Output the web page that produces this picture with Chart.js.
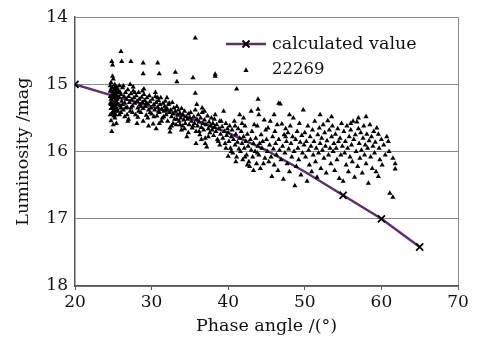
<!DOCTYPE html>
<html>
<head>
<meta charset="utf-8">
<script src="https://cdn.jsdelivr.net/npm/chart.js@4"></script>
<style>
  html, body { margin: 0; padding: 0; background: #fff; }
  #wrap { width: 480px; height: 342px; }
</style>
</head>
<body>
<div id="wrap"><canvas id="phaseChart" width="480" height="342"></canvas></div>
<script>
// Axis ticks
const xTicks = [20, 30, 40, 50, 60, 70];
const yTicks = [14, 15, 16, 17, 18];

// Calculated phase curve
const calcAngle = [20, 25, 30, 35, 40, 45, 50, 55, 60, 65];
const calcMag = [15.0, 15.17, 15.33, 15.5, 15.72, 15.98, 16.3, 16.65, 17.0, 17.42];
const calcMarker = [5, 0, 0, 0, 0, 0, 0, 5, 5, 5];

// Observations of 22269: [phase angle, magnitude]
const obs22269 = [
  // outliers
  [24.8,14.66],[24.9,14.71],[26.0,14.51],[26.1,14.66],[27.3,14.66],[28.9,14.68],[30.8,14.68],[28.9,14.84],
  [31.0,14.84],[33.1,14.82],[33.3,14.96],[35.4,14.90],[38.3,14.85],[38.3,14.88],[35.7,14.31],[35.7,15.13],
  [41.1,15.07],[43.9,15.22],[43.9,15.37],[46.6,15.28],[49.8,15.38],
  // 24.5 - 26
  [24.6,15.02],[24.7,15.10],[24.8,15.18],[24.9,15.25],[25.0,15.31],[25.1,15.08],[25.2,15.15],[25.3,15.22],[25.4,15.35],[25.5,15.12],
  [24.6,15.28],[24.7,15.36],[24.8,15.05],[24.9,15.13],[25.0,15.20],[25.1,15.27],[25.2,15.40],[25.3,15.03],[25.4,15.17],[25.5,15.30],
  [24.7,14.97],[24.9,15.42],[25.1,15.47],[25.3,15.33],[25.5,15.22],[24.8,15.30],[25.0,15.12],[25.2,15.28],[25.4,15.08],[24.6,15.18],
  [24.8,15.44],[24.7,15.54],[25.6,15.40],[24.9,14.88],[25.0,14.92],
  [24.6,15.10],[24.7,15.22],[24.8,15.35],[24.9,15.05],[25.0,15.40],[25.1,15.16],[25.2,15.00],[25.3,15.45],[25.4,15.26],[25.5,15.05],
  [25.6,15.18],[25.7,15.30],[25.8,15.02],[25.9,15.12],[26.0,15.35],[24.7,15.30],[24.9,15.34],[25.1,15.38],[25.3,15.12],[25.5,15.38],
  [24.6,15.45],[25.2,15.50],[25.0,15.60],[24.8,15.70],[25.4,15.58],
  // 26 - 30
  [25.7,15.10],[25.8,15.20],[25.9,15.32],[26.0,15.15],[26.1,15.25],[26.2,15.05],[26.3,15.38],[26.4,15.18],[26.5,15.28],[26.6,15.12],
  [26.7,15.22],[26.8,15.34],[26.9,15.08],[27.0,15.18],[27.1,15.27],[27.2,15.40],[27.3,15.14],[27.4,15.23],[27.5,15.32],[27.6,15.10],
  [27.7,15.20],[27.8,15.28],[27.9,15.45],[28.0,15.17],[28.1,15.25],[28.2,15.35],[28.3,15.12],[28.4,15.22],[28.5,15.30],[28.6,15.42],
  [28.7,15.19],[28.8,15.27],[28.9,15.36],[29.0,15.15],[29.1,15.24],[29.2,15.33],[29.3,15.46],[29.4,15.20],[29.5,15.29],[29.6,15.38],
  [29.7,15.17],[29.8,15.26],[29.9,15.35],[30.0,15.44],[26.0,15.42],[26.5,15.48],[27.0,15.52],[28.2,15.49],[28.9,15.55],[30.2,15.59],
  [26.3,15.02],[27.6,15.04],[25.8,15.45],[27.2,15.00],[29.0,15.07],
  [26.2,15.30],[26.8,15.45],[27.3,15.35],[27.8,15.12],[28.3,15.40],[28.8,15.10],[29.3,15.28],[29.8,15.42],[26.6,15.35],[27.5,15.42],
  [28.6,15.33],[29.5,15.50],[29.6,15.62],[28.1,15.58],[26.9,15.55],
  // 30 - 35
  [30.1,15.22],[30.3,15.30],[30.4,15.38],[30.5,15.18],[30.6,15.27],[30.7,15.47],[30.8,15.34],[30.9,15.24],[31.0,15.42],[31.1,15.30],
  [31.2,15.20],[31.3,15.37],[31.4,15.50],[31.5,15.28],[31.6,15.40],[31.7,15.33],[31.8,15.25],[31.9,15.45],[32.0,15.36],[32.1,15.55],
  [32.2,15.30],[32.3,15.42],[32.4,15.71],[32.5,15.38],[32.6,15.48],[32.7,15.27],[32.8,15.44],[32.9,15.35],[33.0,15.52],[33.1,15.40],
  [33.2,15.60],[33.3,15.33],[33.4,15.46],[33.5,15.38],[33.6,15.55],[33.7,15.43],[33.8,15.50],[33.9,15.36],[34.0,15.62],[34.1,15.45],
  [34.2,15.53],[34.3,15.40],[34.4,15.58],[34.5,15.48],[34.6,15.78],[34.7,15.52],[34.8,15.44],[34.9,15.60],[35.0,15.50],[32.4,15.65],
  [31.0,15.58],[33.9,15.68],[30.5,15.12],[32.0,15.20],
  [30.3,15.48],[30.8,15.20],[31.3,15.55],[31.8,15.38],[32.3,15.28],[32.8,15.58],[33.3,15.52],[30.9,15.40],[31.6,15.48],[32.6,15.62],
  [33.7,15.60],[34.3,15.66],[34.8,15.72],[30.6,15.66],
  // 35 - 40
  [35.1,15.42],[35.2,15.55],[35.3,15.65],[35.5,15.48],[35.6,15.58],[35.7,15.38],[35.8,15.70],[35.9,15.52],[36.0,15.62],[36.1,15.45],
  [36.2,15.56],[36.3,15.75],[36.4,15.50],[36.5,15.64],[36.6,15.42],[36.7,15.58],[36.8,15.68],[36.9,15.53],[37.0,15.80],[37.1,15.60],
  [37.2,15.93],[37.3,15.47],[37.4,15.66],[37.5,15.56],[37.6,15.72],[37.7,15.62],[37.8,15.50],[37.9,15.68],[38.0,15.58],[38.1,15.76],
  [38.2,15.64],[38.3,15.45],[38.4,15.70],[38.5,15.60],[38.6,15.82],[38.7,15.85],[38.8,15.66],[38.9,15.55],[39.0,15.74],[39.2,15.63],
  [39.3,15.80],[39.4,15.40],[39.5,15.70],[39.6,15.88],[39.7,15.58],[39.8,15.76],[39.9,15.66],[35.9,15.30],[36.6,15.35],[37.0,15.88],
  [35.4,15.62],[36.2,15.70],[36.9,15.40],[37.4,15.78],[38.2,15.52],[38.9,15.90],[39.1,15.55],[39.7,15.95],[36.5,15.82],[35.8,15.88],
  // 40 - 45
  [40.0,15.72],[40.1,15.85],[40.2,15.62],[40.3,15.95],[40.4,15.78],[40.5,15.68],[40.6,16.02],[40.7,15.82],[40.8,15.55],[40.9,15.90],
  [41.0,15.74],[41.1,16.08],[41.2,15.86],[41.3,15.66],[41.4,15.96],[41.5,15.80],[41.6,16.00],[41.7,15.70],[41.8,15.88],[41.9,16.12],
  [42.0,15.78],[42.1,15.95],[42.2,15.62],[42.3,15.85],[42.4,16.05],[42.5,15.74],[42.6,15.92],[42.7,16.15],[42.8,16.22],[42.9,15.82],
  [43.0,15.98],[43.1,15.70],[43.2,16.08],[43.3,15.88],[43.4,15.60],[43.5,16.00],[43.6,15.80],[43.7,16.18],[43.8,15.62],[43.9,15.92],
  [44.0,16.05],[44.2,16.25],[44.3,15.75],[44.4,15.95],[44.5,15.85],[44.7,15.53],[44.8,16.10],[44.9,15.68],[40.0,16.07],[41.5,15.45],
  [42.0,15.50],[43.0,15.40],[44.0,15.45],
  [40.4,16.00],[41.0,16.15],[41.8,15.58],[42.5,16.20],[43.3,16.28],[44.1,15.88],[44.6,16.18],[42.2,16.08],[40.9,15.62],[43.8,16.02],
  // 45 - 50
  [45.0,15.82],[45.1,16.00],[45.2,15.65],[45.3,16.15],[45.4,15.90],[45.5,15.55],[45.6,16.08],[45.7,16.37],[45.8,15.78],[45.9,15.96],
  [46.0,16.20],[46.1,15.70],[46.2,15.88],[46.3,16.05],[46.4,15.60],[46.5,16.28],[46.6,15.82],[46.7,15.98],[46.8,15.29],[46.9,16.12],
  [47.0,15.59],[47.1,15.92],[47.2,16.41],[47.3,15.75],[47.4,16.02],[47.5,15.66],[47.6,15.85],[47.7,16.18],[47.8,15.72],[47.9,15.96],
  [48.0,16.30],[48.1,15.62],[48.2,15.88],[48.3,16.08],[48.4,15.78],[48.5,15.50],[48.6,16.00],[48.7,16.51],[48.8,15.82],[48.9,16.22],
  [49.0,15.70],[49.1,15.95],[49.2,16.12],[49.3,15.58],[49.4,15.86],[49.5,16.35],[49.6,15.76],[49.7,16.02],[49.9,15.90],[47.5,15.78],
  [46.0,15.45],[48.0,15.45],
  // 50 - 55
  [50.0,15.72],[50.1,16.08],[50.2,15.85],[50.3,16.44],[50.4,15.62],[50.5,15.98],[50.6,16.20],[50.7,15.78],[50.8,15.92],[50.9,16.30],
  [51.0,15.68],[51.1,16.05],[51.2,15.85],[51.3,15.55],[51.4,16.15],[51.5,15.95],[51.6,16.38],[51.7,15.75],[51.8,16.02],[51.9,15.65],
  [52.0,15.88],[52.1,16.25],[52.2,15.80],[52.3,15.98],[52.4,15.60],[52.5,16.10],[52.6,15.72],[52.7,15.92],[52.8,16.32],[52.9,15.84],
  [53.0,15.54],[53.1,16.05],[53.2,15.68],[53.3,15.95],[53.4,16.18],[53.5,15.78],[53.6,15.62],[53.7,16.00],[53.8,15.88],[53.9,16.28],
  [54.0,15.74],[54.1,15.95],[54.2,16.12],[54.3,15.66],[54.4,15.85],[54.5,16.40],[54.6,15.80],[54.7,16.05],[54.8,15.58],[54.9,15.92],
  [55.0,16.44],[52.0,15.45],[53.5,15.48],
  // 55 - 62
  [55.1,15.70],[55.2,16.02],[55.3,15.85],[55.4,16.20],[55.5,15.62],[55.6,15.95],[55.7,16.30],[55.8,15.78],[55.9,16.08],[56.0,15.68],
  [56.1,15.90],[56.2,16.15],[56.3,15.55],[56.4,15.82],[56.5,16.38],[56.6,15.75],[56.7,16.00],[56.8,15.56],[56.9,16.22],[57.0,15.66],
  [57.1,15.88],[57.2,16.10],[57.3,15.72],[57.4,15.98],[57.5,16.32],[57.6,15.80],[57.7,15.62],[57.8,16.05],[57.9,15.90],[58.0,16.18],
  [58.1,15.74],[58.2,15.95],[58.3,16.47],[58.4,15.84],[58.5,15.60],[58.6,16.08],[58.7,15.78],[58.8,16.25],[58.9,15.92],[59.0,15.70],
  [59.1,16.02],[59.2,15.86],[59.3,16.30],[59.4,15.65],[59.6,16.37],[59.6,15.74],[59.7,15.95],[59.8,16.12],[60.0,15.82],[60.1,16.20],
  [60.3,15.90],[60.5,16.05],[60.7,15.78],[60.9,15.85],[61.0,16.00],[61.1,16.62],[61.5,16.68],[61.8,16.18],[61.8,16.26],[61.5,16.10],
  [57.0,15.50],[58.0,15.48],[56.0,15.58]
];

const legendLabels = ['calculated value', '22269'];

const lineColor = '#5f2d70';
const gridGray = '#8a8a8a';
Chart.defaults.font.family = '"DejaVu Serif", serif';
Chart.defaults.color = '#111';

// Legend drawn inside the plot area, top right
const insideLegend = {
  id: 'insideLegend',
  afterDatasetsDraw(chart) {
    const ctx = chart.ctx;
    const x0 = 226, x1 = 266, xm = 246;
    const y1 = 44, y2 = 70;
    ctx.save();
    ctx.strokeStyle = lineColor;
    ctx.lineWidth = 2.5;
    ctx.beginPath();
    ctx.moveTo(x0, y1);
    ctx.lineTo(x1, y1);
    ctx.stroke();
    ctx.strokeStyle = '#000';
    ctx.lineWidth = 1.8;
    ctx.beginPath();
    ctx.moveTo(xm - 3.5, y1 - 3.5); ctx.lineTo(xm + 3.5, y1 + 3.5);
    ctx.moveTo(xm + 3.5, y1 - 3.5); ctx.lineTo(xm - 3.5, y1 + 3.5);
    ctx.stroke();
    ctx.fillStyle = '#000';
    ctx.beginPath();
    ctx.moveTo(xm, y2 - 2.8); ctx.lineTo(xm + 2.6, y2 + 2); ctx.lineTo(xm - 2.6, y2 + 2);
    ctx.closePath();
    ctx.fill();
    ctx.font = '17.5px "DejaVu Serif", serif';
    ctx.textBaseline = 'middle';
    ctx.fillStyle = '#111';
    ctx.fillText(legendLabels[0], 272, y1);
    ctx.font = '16.5px "DejaVu Serif", serif';
    ctx.fillText(legendLabels[1], 272, y2);
    ctx.restore();
  }
};

const ctx = document.getElementById('phaseChart').getContext('2d');
new Chart(ctx, {
  type: 'scatter',
  data: {
    datasets: [
      {
        label: legendLabels[1],
        data: obs22269.map(p => ({ x: p[0], y: p[1] })),
        pointStyle: 'triangle',
        pointRadius: 3,
        backgroundColor: '#000',
        borderColor: '#000',
        borderWidth: 0,
        order: 1
      },
      {
        type: 'line',
        label: legendLabels[0],
        data: calcAngle.map((a, i) => ({ x: a, y: calcMag[i] })),
        borderColor: lineColor,
        borderWidth: 2.5,
        pointStyle: 'crossRot',
        pointRadius: calcMarker,
        pointBorderColor: '#000',
        pointBorderWidth: 1.8,
        tension: 0,
        order: 2
      }
    ]
  },
  options: {
    responsive: false,
    animation: false,
    layout: { padding: { left: 0, right: 22, top: 14, bottom: 0 } },
    plugins: {
      legend: { display: false },
      tooltip: { enabled: false }
    },
    scales: {
      x: {
        type: 'linear',
        min: xTicks[0],
        max: xTicks[xTicks.length - 1],
        afterBuildTicks: scale => { scale.ticks = xTicks.map(v => ({ value: v })); },
        afterFit: scale => { scale.height = 56; },
        ticks: { font: { size: 17 }, padding: 2, color: '#111', maxRotation: 0 },
        grid: {
          color: c => (c.tick && c.tick.value === 70 ? gridGray : 'rgba(0,0,0,0)'),
          tickColor: '#555',
          tickLength: 4,
          drawTicks: true
        },
        border: { color: '#555', width: 1.5 },
        title: { display: true, text: 'Phase angle /(°)', font: { size: 17.5 }, padding: { top: 0, bottom: 5 }, color: '#111' }
      },
      y: {
        type: 'linear',
        reverse: true,
        min: yTicks[0],
        max: yTicks[yTicks.length - 1],
        afterBuildTicks: scale => { scale.ticks = yTicks.map(v => ({ value: v })); },
        afterFit: scale => { scale.width = 75; },
        ticks: { font: { size: 17 }, padding: 7, color: '#111' },
        grid: { color: gridGray, drawTicks: false, lineWidth: 1 },
        border: { color: '#555', width: 1.5 },
        title: { display: true, text: 'Luminosity /mag', font: { size: 17.5 }, padding: { top: 13, bottom: 0 }, color: '#111' }
      }
    }
  },
  plugins: [insideLegend]
});
</script>
</body>
</html>
